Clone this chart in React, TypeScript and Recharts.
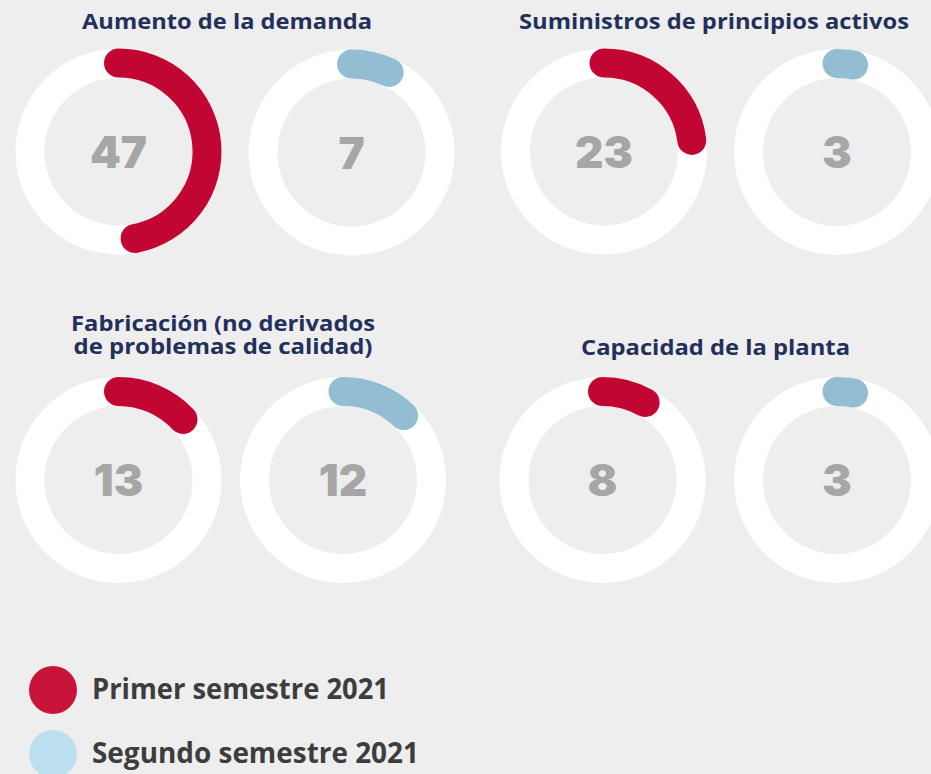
import React from 'react'
import { PieChart, Pie, Cell } from 'recharts'

const titleLines = [
  ['Aumento de la demanda'],
  ['Suministros de principios activos'],
  ['Fabricación (no derivados', 'de problemas de calidad)'],
  ['Capacidad de la planta'],
]
const primer = [47, 23, 13, 8]
const segundo = [7, 3, 12, 3]
const seriesNames = ['Primer semestre 2021', 'Segundo semestre 2021']
const total = 100

// layout (px)
const centers = [
  [[118.5, 151.5], [351.5, 152.5]],
  [[604, 151.5], [837, 152]],
  [[118.5, 480], [343, 480]],
  [[602.5, 480], [837, 480]],
]
const titleX = [227, 714, 223, 715.5]
const titleY = [[28.5], [28.5], [331, 354], [355]]
const titleW = [[290], [390], [304, 299], [269]]
const titleSize = [22, 22, 21, 22]
const legendY = [690, 754]
const legendW = [297, 327]

const arcColors = ['#c10633', '#93bdd0']
const legendColors = ['#c8133b', '#bde0ef']
const BG = '#eeeeee'

// rounded-cap arc along the middle of the sector recharts computed
function ArcShape(props: any) {
  const { cx, cy, innerRadius, outerRadius, startAngle, endAngle } = props
  const p = props.payload ?? props
  if (p.kind !== 'value') return <g />
  const r = (innerRadius + outerRadius) / 2
  const w = outerRadius - innerRadius
  const rad = Math.PI / 180
  const x1 = cx + r * Math.cos(-startAngle * rad)
  const y1 = cy + r * Math.sin(-startAngle * rad)
  const x2 = cx + r * Math.cos(-endAngle * rad)
  const y2 = cy + r * Math.sin(-endAngle * rad)
  const large = Math.abs(startAngle - endAngle) > 180 ? 1 : 0
  return (
    <path
      d={`M${x1},${y1} A${r},${r} 0 ${large} 1 ${x2},${y2}`}
      stroke={p.color}
      strokeWidth={w}
      strokeLinecap="round"
      fill="none"
    />
  )
}

export default function App() {
  const series = [primer, segundo]
  return (
    <div style={{ width: 931, height: 774, overflow: 'hidden', background: BG }}>
      <style>{'body{margin:0;background:#eeeeee}'}</style>
      <PieChart
        width={931}
        height={774}
        margin={{ top: 0, right: 0, bottom: 0, left: 0 }}
        style={{ overflow: 'hidden' }}
      >
        {centers.flatMap((pair, g) =>
          pair.flatMap(([cx, cy], s) => {
            const v = series[s][g]
            const arcData = [
              { kind: 'value', value: v, color: arcColors[s] },
              { kind: 'rest', value: total - v, color: 'none' },
            ]
            return [
              <Pie
                key={`ring-${g}-${s}`}
                data={[{ value: 1 }]}
                dataKey="value"
                cx={cx}
                cy={cy}
                innerRadius={74}
                outerRadius={103}
                startAngle={90}
                endAngle={-270}
                fill="#ffffff"
                stroke="none"
                isAnimationActive={false}
              >
                <Cell fill="#ffffff" />
              </Pie>,
              <Pie
                key={`arc-${g}-${s}`}
                data={arcData}
                dataKey="value"
                cx={cx}
                cy={cy}
                innerRadius={74}
                outerRadius={103}
                startAngle={90}
                endAngle={-270}
                stroke="none"
                shape={ArcShape}
                inactiveShape={ArcShape}
                activeShape={ArcShape}
                isAnimationActive={false}
              >
                {arcData.map((d, i) => (
                  <Cell key={i} fill={d.color} />
                ))}
              </Pie>,
            ]
          })
        )}
        {centers.flatMap((pair, g) =>
          pair.map(([cx, cy], s) => (
            <text
              key={`n-${g}-${s}`}
              x={cx}
              y={cy}
              dy={16}
              textAnchor="middle"
              fill="#a6a6a6"
              fontSize={44}
              fontWeight={900}
              fontFamily="Inter, 'Noto Sans', sans-serif"
            >
              {series[s][g]}
            </text>
          ))
        )}
        {titleLines.map((lines, g) => (
          <text
            key={`t-${g}`}
            textAnchor="middle"
            fill="#23305a"
            fontSize={titleSize[g]}
            fontWeight={700}
            fontFamily="'Open Sans', sans-serif"
          >
            {lines.map((line, i) => (
              <tspan
                key={i}
                x={titleX[g]}
                y={titleY[g][i]}
                textLength={titleW[g][i]}
                lengthAdjust="spacingAndGlyphs"
              >
                {line}
              </tspan>
            ))}
          </text>
        ))}
        {seriesNames.map((name, i) => (
          <g key={`lg-${i}`}>
            <circle cx={53} cy={legendY[i]} r={24} fill={legendColors[i]} />
            <text
              x={92}
              y={legendY[i] + 9}
              fill="#3d3d3d"
              fontSize={28}
              fontWeight={700}
              fontFamily="'Open Sans', sans-serif"
              textLength={legendW[i]}
              lengthAdjust="spacingAndGlyphs"
            >
              {name}
            </text>
          </g>
        ))}
      </PieChart>
    </div>
  )
}
